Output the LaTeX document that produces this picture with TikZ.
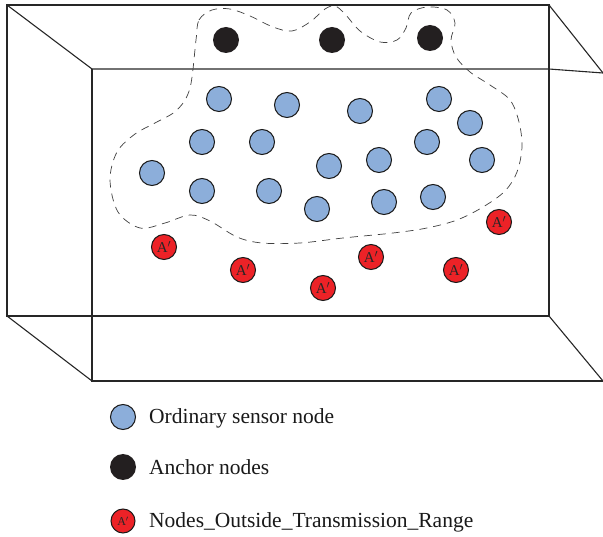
\documentclass[tikz,border=0pt]{standalone}
\usepackage{fontspec}
\newfontfamily\legfont{Liberation Serif}
\begin{document}
\begin{tikzpicture}[x=1pt,y=-1pt,
  boxline/.style={draw=black!85,line width=1.1pt},
  dashline/.style={draw=black!75,line width=0.7pt,dash pattern=on 8pt off 6pt},
  sensor/.style={circle,draw=black!90,line width=1pt,fill=blueN,minimum size=25pt,inner sep=0pt},
  anchornode/.style={circle,fill=blackN,minimum size=26pt,inner sep=0pt},
  outnode/.style={circle,draw=black!90,line width=1pt,fill=redN,minimum size=25pt,inner sep=0pt,font=\legfont\fontsize{15}{15}\selectfont,text=black!85},
  legtext/.style={anchor=base west,font=\legfont\fontsize{21.5}{24}\selectfont,text=black!90,inner sep=0pt}]
\definecolor{blueN}{HTML}{8CAEDA}
\definecolor{blackN}{HTML}{231F20}
\definecolor{redN}{HTML}{EC2227}
\useasboundingbox (0,0) rectangle (603,537);
% box
\draw[boxline] (7,5) rectangle (549,316);
\draw[boxline] (92,69) -- (549,69) -- (603,73);
\draw[boxline] (92,69) -- (92,381) -- (603,381);
\draw[boxline] (7,5) -- (92,69);
\draw[boxline] (7,316) -- (92,381);
\draw[boxline] (549,5) -- (603,73);
\draw[boxline] (549,316) -- (603,381);
% dashed region
\draw[dashline] plot[smooth cycle,tension=0.55] coordinates {
(196,40) (199,20) (212,10) (230,9) (250,16) (273,27) (292,31) (310,22) (325,9) (335,6) (345,14) (360,31) (380,42) (397,40) (406,28) (411,13) (427,7) (447,10) (455,23) (451,40) (456,57) (470,72) (490,85) (510,100) (519,122) (522,147) (517,172) (505,191) (483,207) (457,220) (427,228) (393,233) (343,238) (300,243) (262,243) (237,237) (210,221) (190,215) (165,223) (140,228) (118,212) (110,180) (117,152) (135,134) (155,123) (177,110) (190,88)};
% anchors
\node[anchornode] (a1) at (226,40) {};
\node[anchornode] (a2) at (332,40) {};
\node[anchornode] (a3) at (430,38) {};
% sensors
\node[sensor] (s1) at (219,99) {};
\node[sensor] (s2) at (287,105) {};
\node[sensor] (s3) at (360,111) {};
\node[sensor] (s4) at (439,99) {};
\node[sensor] (s5) at (470,123) {};
\node[sensor] (s6) at (202,142) {};
\node[sensor] (s7) at (262,142) {};
\node[sensor] (s8) at (427,142) {};
\node[sensor] (s9) at (152,173) {};
\node[sensor] (s10) at (329,166) {};
\node[sensor] (s11) at (379,160) {};
\node[sensor] (s12) at (482,160) {};
\node[sensor] (s13) at (202,191) {};
\node[sensor] (s14) at (269,191) {};
\node[sensor] (s15) at (317,209) {};
\node[sensor] (s16) at (384,202) {};
\node[sensor] (s17) at (433,197) {};
% outside nodes
\node[outnode] (o1) at (164,247) {A$'$};
\node[outnode] (o2) at (243,270) {A$'$};
\node[outnode] (o3) at (323,288) {A$'$};
\node[outnode] (o4) at (371,257) {A$'$};
\node[outnode] (o5) at (456,270) {A$'$};
\node[outnode] (o6) at (499,222) {A$'$};
% legend
\node[sensor] (l1) at (123,417) {};
\node[anchornode] (l2) at (123,467) {};
\node[outnode,minimum size=24pt,font=\legfont\fontsize{12}{12}\selectfont] (l3) at (123,521) {A$'$};
\node[legtext] (t1) at (149,424) {Ordinary sensor node};
\node[legtext] (t2) at (149,475) {Anchor nodes};
\node[legtext] (t3) at (149,527) {Nodes\_Outside\_Transmission\_Range};
\end{tikzpicture}
\end{document}
